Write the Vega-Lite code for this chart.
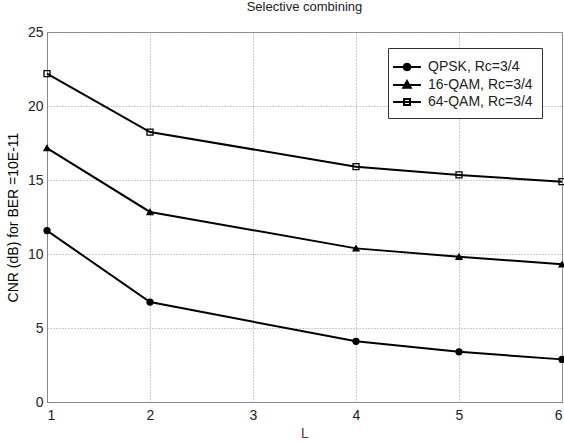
{
  "$schema": "https://vega.github.io/schema/vega-lite/v6.json",
  "width": 515,
  "height": 370,
  "autosize": "none",
  "padding": {"left": 47, "top": 32, "right": 2, "bottom": 39},
  "background": "white",
  "title": {"text": "Selective combining", "font": "Liberation Sans", "fontSize": 13, "fontWeight": "normal", "color": "#222", "offset": 11},
  "config": {
    "view": {"stroke": "#888", "strokeWidth": 1},
    "font": "Liberation Sans",
    "axis": {
      "grid": true, "gridColor": "#999", "gridDash": [1, 2], "gridWidth": 1,
      "domainColor": "#888", "tickSize": 0, "labelFont": "Liberation Sans", "labelFontSize": 14,
      "labelColor": "#222", "titleFont": "Liberation Sans", "titleFontSize": 14, "titleFontWeight": "normal"
    }
  },
  "data": {"values": [
    {"L": 1, "CNR": 11.58, "series": "QPSK, Rc=3/4"},
    {"L": 2, "CNR": 6.75, "series": "QPSK, Rc=3/4"},
    {"L": 4, "CNR": 4.1, "series": "QPSK, Rc=3/4"},
    {"L": 5, "CNR": 3.39, "series": "QPSK, Rc=3/4"},
    {"L": 6, "CNR": 2.88, "series": "QPSK, Rc=3/4"},
    {"L": 1, "CNR": 17.16, "series": "16-QAM, Rc=3/4"},
    {"L": 2, "CNR": 12.84, "series": "16-QAM, Rc=3/4"},
    {"L": 4, "CNR": 10.38, "series": "16-QAM, Rc=3/4"},
    {"L": 5, "CNR": 9.82, "series": "16-QAM, Rc=3/4"},
    {"L": 6, "CNR": 9.3, "series": "16-QAM, Rc=3/4"},
    {"L": 1, "CNR": 22.19, "series": "64-QAM, Rc=3/4"},
    {"L": 2, "CNR": 18.24, "series": "64-QAM, Rc=3/4"},
    {"L": 4, "CNR": 15.9, "series": "64-QAM, Rc=3/4"},
    {"L": 5, "CNR": 15.34, "series": "64-QAM, Rc=3/4"},
    {"L": 6, "CNR": 14.89, "series": "64-QAM, Rc=3/4"}
  ]},
  "encoding": {
    "x": {"field": "L", "type": "quantitative", "scale": {"domain": [1, 6], "nice": false},
      "axis": {"values": [1, 2, 3, 4, 5, 6], "title": "L", "titleColor": "#6a2a50", "labelPadding": 6, "titlePadding": 4}},
    "y": {"field": "CNR", "type": "quantitative", "scale": {"domain": [0, 25], "nice": false},
      "axis": {"values": [0, 5, 10, 15, 20, 25], "title": "CNR (dB) for BER =10E-11", "labelPadding": 4, "titlePadding": 7}}
  },
  "layer": [
    {
      "mark": {"type": "line", "color": "black", "strokeWidth": 2},
      "encoding": {"detail": {"field": "series"}}
    },
    {
      "mark": {"type": "point", "stroke": "black", "strokeWidth": 1.3, "opacity": 1, "size": 36},
      "encoding": {
        "shape": {"field": "series", "type": "nominal", "legend": null,
          "scale": {"domain": ["QPSK, Rc=3/4", "16-QAM, Rc=3/4", "64-QAM, Rc=3/4"], "range": ["circle", "triangle-up", "square"]}},
        "fill": {"field": "series", "type": "nominal", "legend": null,
          "scale": {"domain": ["QPSK, Rc=3/4", "16-QAM, Rc=3/4", "64-QAM, Rc=3/4"], "range": ["black", "black", "transparent"]}}
      }
    },
    {
      "mark": {"type": "point", "stroke": "black", "opacity": 0},
      "encoding": {
        "shape": {"field": "series", "type": "nominal",
          "scale": {"domain": ["QPSK, Rc=3/4", "16-QAM, Rc=3/4", "64-QAM, Rc=3/4"],
            "range": [
              "M-1.55,0H1.55M0.37,0L0.32,0.185L0.185,0.32L0,0.37L-0.185,0.32L-0.32,0.185L-0.37,0L-0.32,-0.185L-0.185,-0.32L0,-0.37L0.185,-0.32L0.32,-0.185ZM0.15,0L0.075,0.13L-0.075,0.13L-0.15,0L-0.075,-0.13L0.075,-0.13Z",
              "M-1.55,0H1.55M0,-0.45L0.42,0.3L-0.42,0.3ZM0,-0.15L0.15,0.12L-0.15,0.12Z",
              "M-1.55,0H1.55M-0.33,-0.33H0.33V0.33H-0.33Z"
            ]},
          "legend": {
            "title": null, "orient": "none", "legendX": 341, "legendY": 16,
            "strokeColor": "#333", "fillColor": "white", "padding": 9,
            "labelFontSize": 14, "labelFont": "Liberation Sans", "labelColor": "#222",
            "symbolSize": 324, "labelOffset": 11, "rowPadding": 0,
            "symbolOpacity": 1, "symbolStrokeColor": "black", "symbolStrokeWidth": 2
          }}
      }
    }
  ],
  "resolve": {"scale": {"shape": "independent"}}
}
